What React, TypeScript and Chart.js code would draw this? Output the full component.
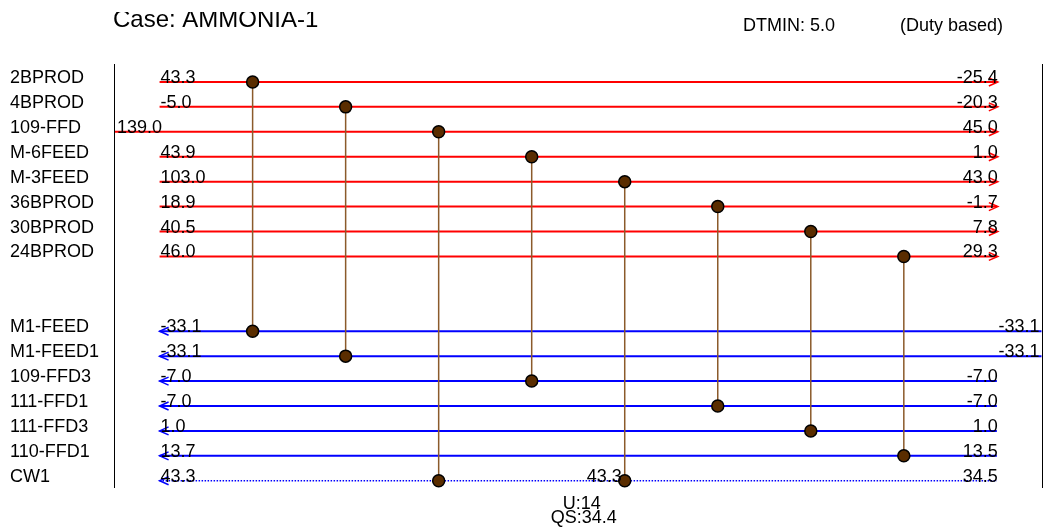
import React, { useEffect, useRef } from "react";
import { Chart, registerables } from "chart.js";

Chart.register(...registerables);

// ---- Data ----
const title = "Case: AMMONIA-1";
const dtminText = "DTMIN: 5.0";
const basisText = "(Duty based)";
const summaryLines = ["U:14", "QS:34.4"];

const hotNames = ["2BPROD", "4BPROD", "109-FFD", "M-6FEED", "M-3FEED", "36BPROD", "30BPROD", "24BPROD"];
const hotSupplyTemps = ["43.3", "-5.0", "139.0", "43.9", "103.0", "18.9", "40.5", "46.0"];
const hotTargetTemps = ["-25.4", "-20.3", "45.0", "1.0", "43.0", "-1.7", "7.8", "29.3"];
const hotRows = [0, 1, 2, 3, 4, 5, 6, 7];
const hotStartPos = [0, 0, -0.49, 0, 0, 0, 0, 0];
const hotEndPos = [9, 9, 9, 9, 9, 9, 9, 9];

const coldNames = ["M1-FEED", "M1-FEED1", "109-FFD3", "111-FFD1", "111-FFD3", "110-FFD1", "CW1"];
const coldTargetTemps = ["-33.1", "-33.1", "-7.0", "-7.0", "1.0", "13.7", "43.3"];
const coldSupplyTemps = ["-33.1", "-33.1", "-7.0", "-7.0", "1.0", "13.5", "34.5"];
const coldRows = [10, 11, 12, 13, 14, 15, 16];
const coldStartPos = [0, 0, 0, 0, 0, 0, 0];
const coldEndPos = [9.48, 9.48, 9, 9, 9, 9, 9];
const coldDotted = [false, false, false, false, false, false, true];

const exColumns = [1, 2, 3, 4, 5, 6, 7, 8];
const exHotStream = [0, 1, 2, 3, 4, 5, 6, 7];
const exColdStream = [0, 1, 6, 2, 6, 3, 4, 5];

const midLabelExchanger = [4];
const midLabelText = ["43.3"];

const X_MIN = -0.49;
const X_MAX = 9.48;
const Y_MIN = -0.72;
const Y_MAX = 16.29;

const FONT = "'Liberation Sans', Arial, Helvetica, sans-serif";
const HOT = "#ff0000";
const COLD = "#0000ff";

const gridPlugin = {
  id: "gridPlugin",
  afterDatasetsDraw(chart: any) {
    const { ctx, scales, chartArea } = chart;
    const xs = scales.x;
    const ys = scales.y;
    ctx.save();
    // frame lines
    ctx.strokeStyle = "#000";
    ctx.lineWidth = 1;
    ctx.beginPath();
    const l = Math.round(chartArea.left) + 0.5;
    const r = Math.round(chartArea.right) + 0.5;
    ctx.moveTo(l, chartArea.top);
    ctx.lineTo(l, chartArea.bottom);
    ctx.moveTo(r, chartArea.top);
    ctx.lineTo(r, chartArea.bottom);
    ctx.stroke();

    // arrows
    ctx.lineWidth = 1.5;
    hotNames.forEach((_, i) => {
      const px = xs.getPixelForValue(hotEndPos[i]);
      const py = ys.getPixelForValue(hotRows[i]);
      ctx.strokeStyle = HOT;
      ctx.beginPath();
      ctx.moveTo(px - 8, py - 4);
      ctx.lineTo(px + 1, py);
      ctx.lineTo(px - 8, py + 4);
      ctx.stroke();
    });
    coldNames.forEach((_, i) => {
      const px = xs.getPixelForValue(coldStartPos[i]);
      const py = ys.getPixelForValue(coldRows[i]);
      ctx.strokeStyle = COLD;
      ctx.beginPath();
      ctx.moveTo(px + 9, py - 4);
      ctx.lineTo(px, py);
      ctx.lineTo(px + 9, py + 4);
      ctx.stroke();
    });

    // texts
    ctx.fillStyle = "#000";
    ctx.font = `18px ${FONT}`;
    ctx.textBaseline = "alphabetic";
    const frameRight = chartArea.right;
    const drawStream = (name: string, row: number, startV: number, endV: number, lt: string, rt: string) => {
      const py = ys.getPixelForValue(row) + 1;
      ctx.textAlign = "left";
      ctx.fillText(name, 10, py);
      const sx = xs.getPixelForValue(startV);
      ctx.fillText(lt, Math.max(sx + 1, chartArea.left + 3), py);
      const ex = xs.getPixelForValue(endV);
      ctx.textAlign = "right";
      ctx.fillText(rt, Math.min(ex + 1, frameRight - 2), py);
    };
    hotNames.forEach((n, i) => drawStream(n, hotRows[i], hotStartPos[i], hotEndPos[i], hotSupplyTemps[i], hotTargetTemps[i]));
    coldNames.forEach((n, i) => drawStream(n, coldRows[i], coldStartPos[i], coldEndPos[i], coldTargetTemps[i], coldSupplyTemps[i]));

    midLabelExchanger.forEach((e, k) => {
      const px = xs.getPixelForValue(exColumns[e]);
      const py = ys.getPixelForValue(coldRows[exColdStream[e]]) + 1;
      ctx.textAlign = "right";
      ctx.fillText(midLabelText[k], px - 3, py);
    });

    // header
    ctx.textAlign = "left";
    ctx.fillText(dtminText, 743, 31);
    ctx.fillText(basisText, 900, 31);

    // summary
    ctx.textAlign = "center";
    const cx = (chartArea.left + chartArea.right) / 2 + 4;
    ctx.fillText(summaryLines[0], cx, 509);
    ctx.fillText(summaryLines[1], cx + 2, 523);

    // title (clipped at top)
    ctx.save();
    ctx.beginPath();
    ctx.rect(0, 12, chart.width, 40);
    ctx.clip();
    ctx.textAlign = "left";
    ctx.font = `24px ${FONT}`;
    ctx.fillText(title, 113, 27);
    ctx.restore();

    ctx.restore();
  },
};

export default function App() {
  const ref = useRef<HTMLCanvasElement | null>(null);
  useEffect(() => {
    if (!ref.current) return;
    const datasets: any[] = [];
    exColumns.forEach((c, i) => {
      datasets.push({
        data: [
          { x: c, y: hotRows[exHotStream[i]] },
          { x: c, y: coldRows[exColdStream[i]] },
        ],
        showLine: true,
        borderColor: "#8b5a2b",
        borderWidth: 1.5,
        pointRadius: 6,
        pointBackgroundColor: "#5a2d00",
        pointBorderColor: "#000",
        pointBorderWidth: 1.5,
        order: 0,
        clip: false,
      });
    });
    hotNames.forEach((_, i) => {
      datasets.push({
        data: [
          { x: hotStartPos[i], y: hotRows[i] },
          { x: hotEndPos[i], y: hotRows[i] },
        ],
        showLine: true,
        borderColor: HOT,
        borderWidth: 2,
        pointRadius: 0,
        order: 1,
        clip: false,
      });
    });
    coldNames.forEach((_, i) => {
      datasets.push({
        data: [
          { x: coldStartPos[i], y: coldRows[i] },
          { x: coldEndPos[i], y: coldRows[i] },
        ],
        showLine: true,
        borderColor: COLD,
        borderWidth: coldDotted[i] ? 1.5 : 2,
        borderDash: coldDotted[i] ? [1.5, 1.5] : [],
        pointRadius: 0,
        order: 1,
        clip: false,
      });
    });

    const chart = new Chart(ref.current, {
      type: "scatter",
      data: { datasets },
      options: {
        animation: false,
        responsive: false,
        devicePixelRatio: 1,
        layout: { padding: { left: 114, right: 7, top: 64, bottom: 40 } },
        plugins: { legend: { display: false }, tooltip: { enabled: false }, title: { display: false } },
        events: [],
        scales: {
          x: { type: "linear", min: X_MIN, max: X_MAX, display: false },
          y: { type: "linear", min: Y_MIN, max: Y_MAX, reverse: true, display: false },
        },
      } as any,
      plugins: [gridPlugin],
    });
    return () => chart.destroy();
  }, []);
  return (
    <div style={{ position: "fixed", left: 0, top: 0, width: 1049, height: 528, background: "#fff" }}>
      <canvas ref={ref} width={1049} height={528} style={{ display: "block" }} />
    </div>
  );
}
